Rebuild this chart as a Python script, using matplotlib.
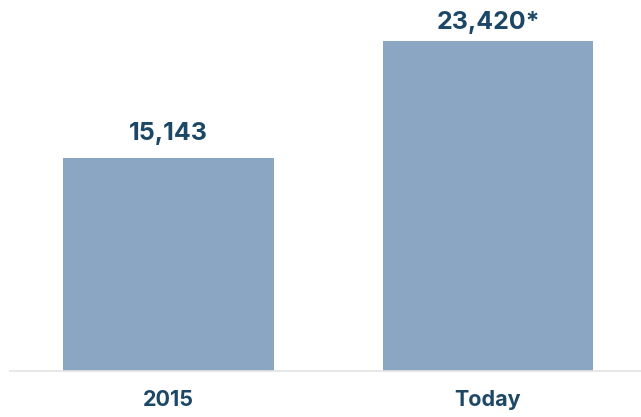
import matplotlib
matplotlib.use("Agg")
import matplotlib.pyplot as plt

categories = ["2015", "Today"]
values = [15143, 23420]
value_labels = ["15,143", "23,420*"]

bar_color = "#8aa6c2"
text_color = "#1c4767"

plt.rcParams["font.family"] = ["Inter", "DejaVu Sans"]

fig = plt.figure(figsize=(6.41, 4.17), dpi=100)
ax = fig.add_axes([10 / 641, 46 / 417, 631 / 641, 371 / 417])

x = list(range(len(categories)))
ax.bar(x, values, width=0.66, color=bar_color, zorder=2)

# baseline gap (points) between each label and the top of its bar
label_gaps = [12.5, 9.0]
for xi, v, lab, gap in zip(x, values, value_labels, label_gaps):
    ax.annotate(lab, (xi, v), xytext=(0, gap), textcoords="offset points",
                ha="center", va="baseline", fontsize=18, fontweight="bold",
                color=text_color)

ax.set_xlim(-0.496, 1.479)
ax.set_ylim(0, 26330)
ax.set_xticks(x)
ax.set_xticklabels(categories, fontsize=15.5, fontweight="bold", color=text_color)
ax.tick_params(axis="x", length=0, pad=14)
ax.set_yticks([])

for side in ["top", "right", "left"]:
    ax.spines[side].set_visible(False)
ax.spines["bottom"].set_color("#e3e3e3")
ax.spines["bottom"].set_linewidth(1.2)

fig.savefig("out.png", dpi=100, facecolor="white")
